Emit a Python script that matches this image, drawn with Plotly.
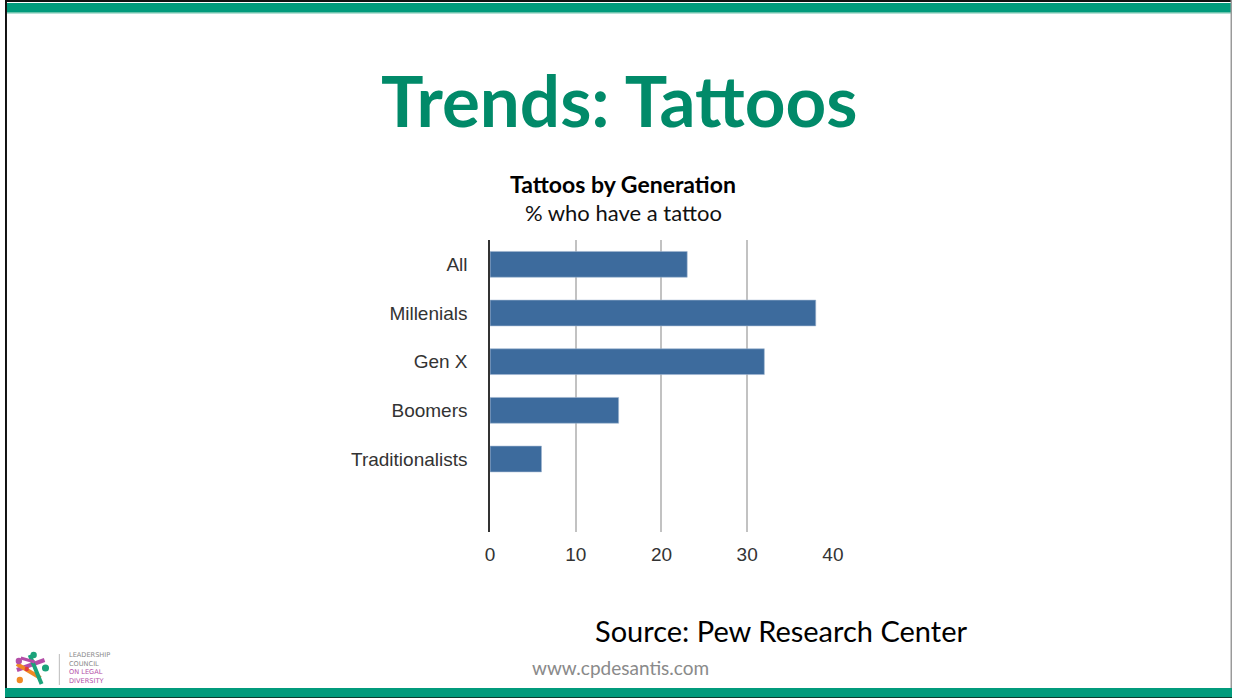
import plotly.graph_objects as go

W, H = 1242, 698

categories = ["All", "Millenials", "Gen X", "Boomers", "Traditionalists"]
values = [23, 38, 32, 15, 6]
x_ticks = [0, 10, 20, 30, 40]

BAR = "#3d6b9d"
GREEN = "#019b7c"
TITLE_GREEN = "#018a69"


def px(x):
    return x / W


def py(y):
    return 1 - y / H


fig = go.Figure()
fig.add_trace(go.Bar(
    x=values, y=categories, orientation="h",
    marker=dict(color=BAR, line=dict(color="#9fb5d0", width=0.6)),
    width=0.53, hoverinfo="skip",
))

shapes = []


def rect(x0, y0, x1, y1, color):
    shapes.append(dict(type="rect", xref="paper", yref="paper",
                       x0=px(x0), x1=px(x1), y0=py(y1), y1=py(y0),
                       fillcolor=color, line=dict(width=0), layer="above"))


# slide frame
rect(0, 0, W, 2, "#111111")
rect(0, 3, W, 12, GREEN)
rect(0, 12, W, 13.5, "#6cc4ae")
rect(0, 0, 2, H, "#111111")
rect(W - 1.5, 0, W, H, "#9a9a9a")
rect(0, 688, W, 697, GREEN)
rect(0, 697, W, H, "#0a3d30")

# logo divider
rect(54.5, 654, 55.5, 685, "#bbbbbb")


def circ(cx, cy, r, color):
    shapes.append(dict(type="circle", xref="paper", yref="paper",
                       x0=px(cx - r), x1=px(cx + r), y0=py(cy + r), y1=py(cy - r),
                       fillcolor=color, line=dict(width=0), layer="above"))


def seg(x0, y0, x1, y1, color, w=4):
    shapes.append(dict(type="line", xref="paper", yref="paper",
                       x0=px(x0), x1=px(x1), y0=py(y0), y1=py(y1),
                       line=dict(color=color, width=w), layer="above"))


# logo icon (approximation)
seg(12, 670, 40, 660, "#b44fa8", 4)
seg(12, 664, 36, 678, "#f08a24", 4)
seg(25, 655, 37, 684, "#1aa37a", 4)
seg(16, 658, 30, 662, "#b44fa8", 3)
circ(14, 661, 3.2, "#b44fa8")
circ(15, 680, 3.2, "#f08a24")
circ(29, 655, 3.2, "#1aa37a")
circ(41, 668, 3.6, "#1aa37a")
circ(22, 669, 2.2, "#e23b3b")

fig.update_layout(shapes=shapes)

logo_text = ("<span style='color:#8a8a8a'>LEADERSHIP<br>COUNCIL</span><br>"
             "<span style='color:#b44fa8'>ON LEGAL<br>DIVERSITY</span>")

annotations = [
    dict(text="<b>Trends: Tattoos</b>", x=px(622), y=py(99), font=dict(family="Lato", size=71, color=TITLE_GREEN)),
    dict(text="<b>Tattoos by Generation</b>", x=px(626), y=py(184), font=dict(family="Lato", size=23, color="#000000")),
    dict(text="% who have a tattoo", x=px(626), y=py(213), font=dict(family="Lato", size=22, color="#111111")),
    dict(text="Source: Pew Research Center", x=px(785), y=py(630), font=dict(family="Lato", size=29, color="#000000")),
    dict(text="www.cpdesantis.com", x=px(623), y=py(667), font=dict(family="Lato", size=19, color="#8a8a8a")),
    dict(text=logo_text, x=px(63), y=py(668), xanchor="left", align="left",
         font=dict(family="DejaVu Sans", size=6.6, color="#8a8a8a")),
]
for a in annotations:
    a.setdefault("xanchor", "center")
    a.update(xref="paper", yref="paper", yanchor="middle", showarrow=False)
fig.update_layout(annotations=annotations)

x0p, x1p = 491, 491 + 40.05 * (347 / 40)
fig.update_layout(
    width=W, height=H,
    margin=dict(l=0, r=0, t=0, b=0),
    paper_bgcolor="white", plot_bgcolor="white",
    showlegend=False,
    font=dict(family="Liberation Sans", size=18, color="#333333"),
    xaxis=dict(
        domain=[px(x0p), px(x1p)], range=[0, 40.05],
        tickvals=x_ticks, ticktext=[str(t) for t in x_ticks],
        showgrid=True, gridcolor="#c2c2c2", gridwidth=1.5,
        zeroline=False, showline=False,
        ticks="", ticklabelstandoff=9,
        tickfont=dict(family="Liberation Sans", size=19, color="#333333"),
        fixedrange=True,
    ),
    yaxis=dict(
        domain=[py(532), py(240)],
        type="category", categoryorder="array", categoryarray=categories,
        range=[5.5, -0.5],
        showgrid=False, zeroline=False,
        showline=True, linecolor="#333333", linewidth=1.5,
        ticks="", ticklabelstandoff=17,
        tickfont=dict(family="Liberation Sans", size=19, color="#333333"),
        fixedrange=True,
    ),
)

fig.write_html("out.html", config={"displayModeBar": False})
